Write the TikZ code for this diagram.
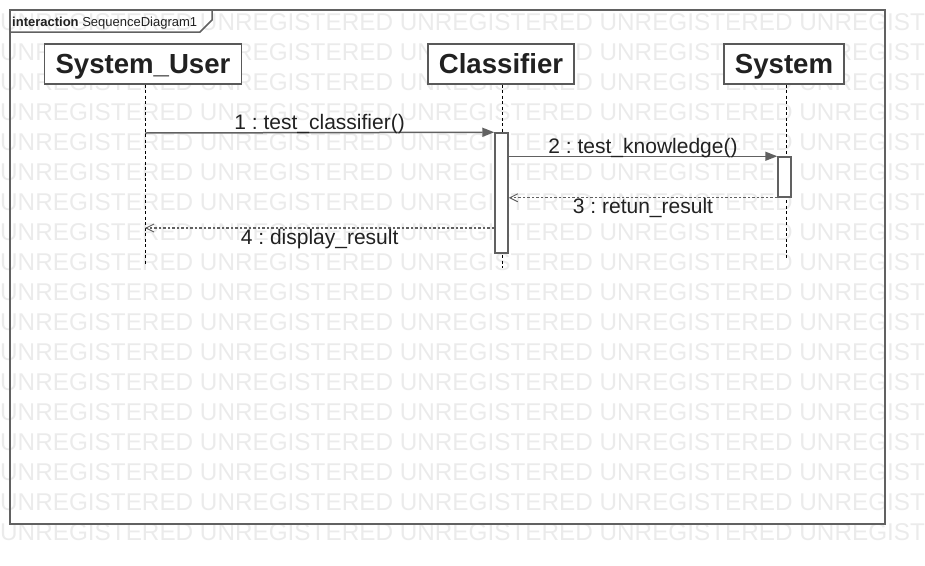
\documentclass[tikz,border=0pt]{standalone}
\usepackage{fontspec}
\setmainfont{Liberation Sans}
\usetikzlibrary{arrows.meta}
\frenchspacing

\begin{document}
\begin{tikzpicture}[
    x=1pt, y=-1pt,
    every node/.style={inner sep=0pt, text=black!87, font=\fontsize{21}{21}\selectfont},
    wm/.style={anchor=base west, text=black!8, font=\fontsize{24.3}{24}\selectfont}, % Wasserzeichen
    frame/.style={draw=black!62, line width=1.5pt},
    head/.style={draw=black!65, line width=1.3pt, fill=white, inner xsep=11pt, minimum height=40pt,
        text height=19.6pt, text depth=0pt, font=\bfseries\fontsize{27.6}{27}\selectfont},
    act/.style={draw=black!62, line width=1.5pt, fill=white, minimum width=13pt},
    lifeline/.style={black, line width=0.8pt, dash pattern=on 3pt off 2.5pt},
    msg/.style={draw=black!62, line width=1.5pt, -{Triangle[length=12pt,width=9pt]}},
    ret/.style={draw=black!62, line width=1.1pt, dash pattern=on 2.5pt off 2pt,
        -{Straight Barb[length=8pt,width=8pt,line width=0.9pt]}},
    up/.style={midway, anchor=base, yshift=3pt},
    down/.style={midway, anchor=base, yshift=-16pt}
]
\useasboundingbox (0,0) rectangle (925,565);
\clip (0,0) rectangle (925,565);

\foreach \r in {0,...,17}
    \node[wm] (wm\r) at (0,30+30*\r) {UNREGISTERED UNREGISTERED UNREGISTERED UNREGISTERED UNREGIST};

\draw[frame] (10,10) rectangle (885,524);
\draw[frame] (10,32) -- (200,32) -- (212,20) -- (212,10);
\node[anchor=base west, font=\fontsize{13}{13}\selectfont] (title) at (12,26) {\textbf{interaction} SequenceDiagram1};

\node[head] (user) at (143,64) {System\_User};
\node[head] (cls) at (501,64) {Classifier};
\node[head] (sys) at (784,64) {System};

\coordinate (userEnd) at (145,266);
\coordinate (clsEnd) at (502,268);
\coordinate (sysEnd) at (786,258);
\draw[lifeline] (user.south -| userEnd) -- (userEnd);
\draw[lifeline] (cls.south -| clsEnd) -- (clsEnd);
\draw[lifeline] (sys.south -| sysEnd) -- (sysEnd);

\node[act, minimum height=120pt] (act1) at (501.5,193) {};
\node[act, minimum height=40pt] (act2) at (784.5,177) {};

\coordinate (u1) at (145,133);
\coordinate (u4) at (145,228);
\draw[msg] (u1) -- (act1.north west) node[up] {1 : test\_classifier()};
\draw[msg] (act1.east |- act2.north) -- (act2.north west) node[up] {2 : test\_knowledge()};
\draw[ret] (act2.south west) -- (act1.east |- act2.south) node[down] {3 : retun\_result};
\draw[ret] (act1.west |- u4) -- (u4) node[down] {4 : display\_result};

\end{tikzpicture}
\end{document}
